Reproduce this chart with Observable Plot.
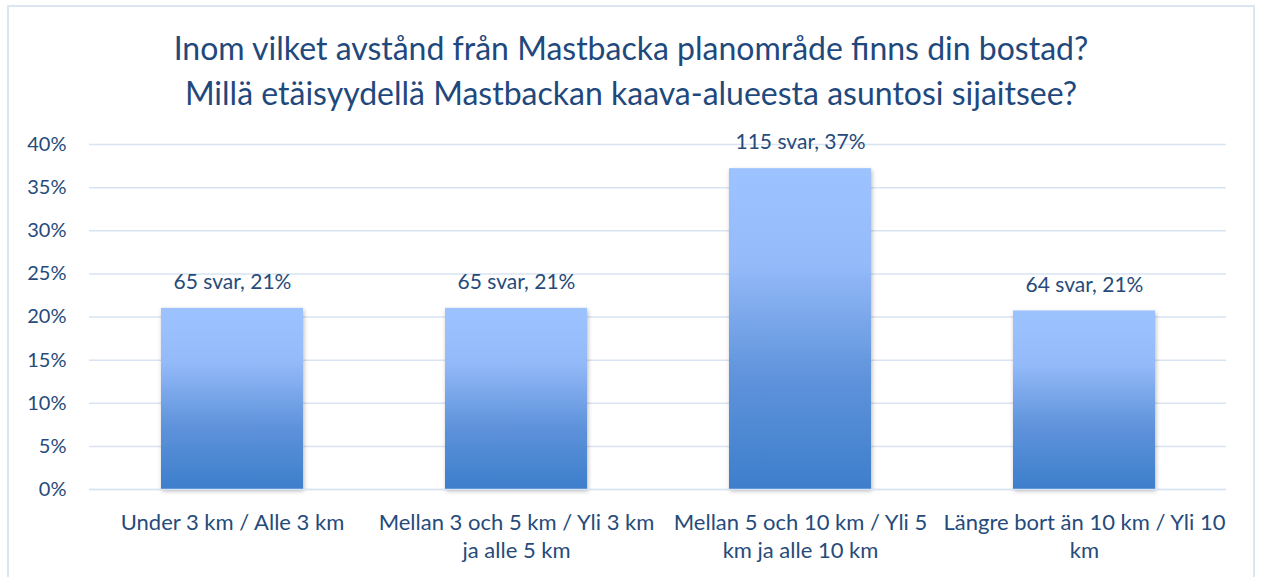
<!DOCTYPE html>
<html><head><meta charset="utf-8">
<script src="https://cdn.jsdelivr.net/npm/d3@7"></script>
<script src="https://cdn.jsdelivr.net/npm/@observablehq/plot@0.6"></script>
<style>
html,body{margin:0;padding:0;background:#fff;overflow:hidden;width:1261px;height:577px;}
#frame{position:absolute;left:7px;top:5px;width:1248px;height:620px;border:2px solid #DCE6F2;box-sizing:border-box;}
#title{position:absolute;left:7px;top:25px;width:1248px;text-align:center;color:#1F497D;font-family:Lato,sans-serif;font-size:32px;line-height:45px;}
#chart{position:absolute;left:0;top:120px;}
</style></head><body>
<div id="frame"></div>
<div id="title">Inom vilket avstånd från Mastbacka planområde finns din bostad?<br>Millä etäisyydellä Mastbackan kaava-alueesta asuntosi sijaitsee?</div>
<div id="chart"></div>
<script>
const categories = [
  "Under 3 km / Alle 3 km",
  "Mellan 3 och 5 km / Yli 3 km ja alle 5 km",
  "Mellan 5 och 10 km / Yli 5 km ja alle 10 km",
  "Längre bort än 10 km / Yli 10 km"
];
const tickLabels = [
  "Under 3 km / Alle 3 km",
  "Mellan 3 och 5 km / Yli 3 km\nja alle 5 km",
  "Mellan 5 och 10 km / Yli 5\nkm ja alle 10 km",
  "Längre bort än 10 km / Yli 10\nkm"
];
const counts = [65, 65, 115, 64];
const shares = [0.210, 0.210, 0.372, 0.207];
const percentLabels = [21, 21, 37, 21];
const yTicks = [0, 0.05, 0.10, 0.15, 0.20, 0.25, 0.30, 0.35, 0.40];

const data = categories.map((c, i) => ({
  cat: c, share: shares[i], label: `${counts[i]} svar, ${percentLabels[i]}%`
}));

const textColor = "#264B7A";
const gridColor = "#D9E4F2";

const plot = Plot.plot({
  width: 1261, height: 457,
  marginLeft: 89, marginRight: 35, marginTop: 24, marginBottom: 88,
  style: {fontFamily: "Lato, sans-serif", fontSize: "20px", color: textColor, background: "transparent", overflow: "visible"},
  x: {domain: categories, paddingInner: 0.5, paddingOuter: 0.25, label: null},
  y: {domain: [0, 0.4], label: null},
  marks: [
    Plot.gridY(yTicks, {stroke: gridColor, strokeOpacity: 1, strokeWidth: 1.5}),
    Plot.axisY(yTicks, {tickSize: 0, tickPadding: 23, tickFormat: d3.format(".0%"), label: null, fill: textColor, fontSize: 20}),
    Plot.axisX({tickSize: 0, tickPadding: 21, tickFormat: d => tickLabels[categories.indexOf(d)], lineHeight: 1.27, label: null, fill: textColor, fontSize: 22}),
    Plot.barY(data, {x: "cat", y: "share", fill: "url(#barGrad)"}),
    Plot.ruleY([0], {stroke: gridColor, strokeWidth: 1.5}),
    Plot.text(data, {x: "cat", y: "share", text: "label", dy: -26, fill: textColor, fontSize: 21})
  ]
});

const svg = d3.select(plot);
const defs = svg.insert("defs", ":first-child");
const grad = defs.append("linearGradient").attr("id", "barGrad")
  .attr("x1", 0).attr("y1", 0).attr("x2", 0).attr("y2", 1);
[[0, "#9DC3FF"], [0.3, "#94BAF9"], [0.65, "#5F93DB"], [1, "#3D7ECB"]].forEach(([o, c]) =>
  grad.append("stop").attr("offset", o).attr("stop-color", c));
svg.selectAll("g[aria-label=bar] rect").style("filter", "drop-shadow(1px 2px 2px rgba(0,0,0,0.28))");

document.getElementById("chart").appendChild(plot);
</script>
</body></html>
